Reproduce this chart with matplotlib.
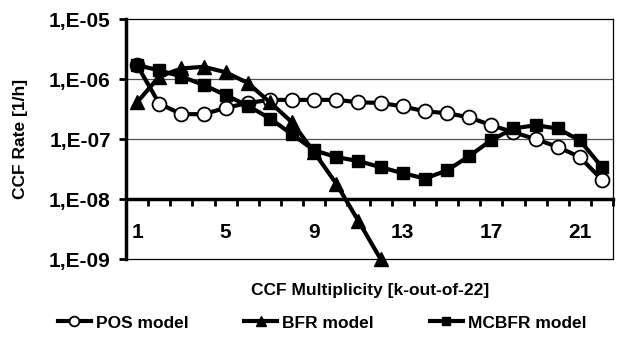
import matplotlib
matplotlib.use("Agg")
import matplotlib.pyplot as plt
import numpy as np
from matplotlib.ticker import NullLocator, FixedLocator

plt.rcParams['font.family'] = ['Liberation Sans', 'DejaVu Sans']
plt.rcParams['font.weight'] = 'bold'

# data
multiplicity = list(range(1, 23))
pos_rate = [1.7e-6, 3.9e-7, 2.6e-7, 2.6e-7, 3.3e-7, 4.0e-7, 4.5e-7, 4.5e-7,
            4.5e-7, 4.5e-7, 4.1e-7, 4.0e-7, 3.5e-7, 2.9e-7, 2.7e-7, 2.3e-7,
            1.7e-7, 1.3e-7, 1.0e-7, 7.4e-8, 5.0e-8, 2.1e-8]
bfr_k = list(range(1, 13))
bfr_rate = [4.1e-7, 1.1e-6, 1.5e-6, 1.6e-6, 1.3e-6, 8.6e-7, 4.1e-7, 1.9e-7,
            6.0e-8, 1.8e-8, 4.3e-9, 1.0e-9]
mcbfr_rate = [1.7e-6, 1.4e-6, 1.1e-6, 8.0e-7, 5.4e-7, 3.6e-7, 2.2e-7, 1.2e-7,
              6.5e-8, 5.0e-8, 4.3e-8, 3.4e-8, 2.7e-8, 2.2e-8, 3.0e-8, 5.2e-8,
              9.6e-8, 1.5e-7, 1.7e-7, 1.5e-7, 9.5e-8, 3.4e-8]

y_ticks = [1e-9, 1e-8, 1e-7, 1e-6, 1e-5]
y_labels = ['1,E-09', '1,E-08', '1,E-07', '1,E-06', '1,E-05']
x_ticks = [1, 5, 9, 13, 17, 21]

fig = plt.figure(figsize=(6.19, 3.4), dpi=100)
ax = fig.add_axes([0.2036, 0.238, 0.7868, 0.706])

ax.set_yscale('log')
ax.set_ylim(1e-9, 1e-5)
ax.set_xlim(0.5, 22.5)

# gridlines
for v in [1e-7, 1e-6]:
    ax.axhline(v, color='#505050', lw=0.9, zorder=0)
ax.axhline(1e-9, color='black', lw=0.9, clip_on=False, zorder=1)

# series
ax.plot(multiplicity, pos_rate, color='black', lw=3, marker='o', ms=10,
        mfc='white', mec='black', mew=1.3, label='POS model', zorder=3)
ax.plot(bfr_k, bfr_rate, color='black', lw=3, marker='^', ms=10,
        mfc='black', mec='black', label='BFR model', zorder=3, clip_on=False)
ax.plot(multiplicity, mcbfr_rate, color='black', lw=3, marker='s', ms=8.5,
        mfc='black', mec='black', label='MCBFR model', zorder=3)

# axes: thick y axis, x axis crossing at 1E-08
ax.spines['left'].set_linewidth(2.5)
ax.spines['bottom'].set_position(('data', 1e-8))
ax.spines['bottom'].set_linewidth(2.5)
ax.spines['top'].set_linewidth(0.9)
ax.spines['right'].set_linewidth(0.9)

ax.yaxis.set_major_locator(FixedLocator(y_ticks))
ax.yaxis.set_minor_locator(NullLocator())
ax.set_yticklabels(y_labels)
ax.tick_params(axis='y', which='major', direction='out', length=5, width=2,
               labelsize=15, pad=6)

ax.set_xticks(x_ticks)
ax.set_xticklabels([str(x) for x in x_ticks])
ax.xaxis.set_minor_locator(FixedLocator(np.arange(1.5, 23, 1)))
ax.tick_params(axis='x', which='major', length=0, labelsize=15, pad=17)
ax.tick_params(axis='x', which='minor', direction='out', length=5, width=2)

fig.text(370 / 619, 1 - 290 / 340, 'CCF Multiplicity [k-out-of-22]',
         ha='center', va='center', fontsize=12.5, fontweight='bold')
fig.text(21 / 619, 1 - 139 / 340, 'CCF Rate [1/h]', rotation=90,
         ha='center', va='center', fontsize=12.5, fontweight='bold')

fig.legend(loc='center', bbox_to_anchor=(322 / 619, 1 - 323 / 340), ncol=3,
           frameon=False, fontsize=12.5, handlelength=1.9, handletextpad=0.3,
           columnspacing=3.2, markerscale=0.7)

fig.savefig('out.png', dpi=100)
